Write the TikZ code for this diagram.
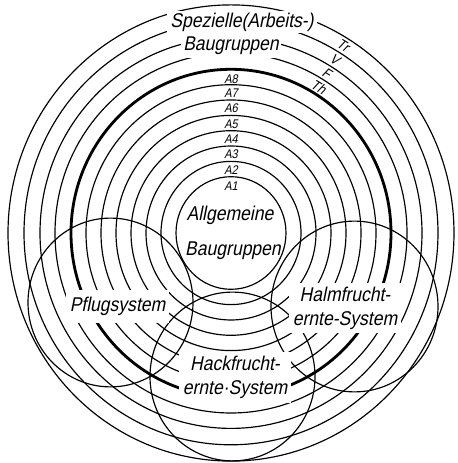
\documentclass[tikz,border=0pt]{standalone}
\usepackage{fontspec}
\newfontfamily\techfont{Liberation Sans}[FakeSlant=0.2,FakeStretch=0.88]
\usetikzlibrary{positioning}
\tikzset{
  ring/.style={line width=1pt},
  mainring/.style={line width=2.4pt},
  sysring/.style={line width=1pt},
  bigtext/.style={font=\techfont\fontsize{17}{20.5}\selectfont, fill=white, inner sep=3.5pt, align=center},
  coretext/.style={font=\techfont\fontsize{17}{20.5}\selectfont, inner sep=1pt},
  alabel/.style={font=\techfont\fontsize{10.7}{12}\selectfont, inner sep=0.5pt},
  zonelabel/.style={font=\techfont\fontsize{12}{13}\selectfont, inner sep=0pt, rotate=-31.5}
}
\begin{document}
\begin{tikzpicture}[x=0.3mm, y=0.3mm]
  \useasboundingbox (0,0) rectangle (457,463);
  \coordinate (c) at (231,230);

  % konzentrische Ringe
  \draw[ring] (c) ellipse [x radius=223, y radius=228.1];
  \draw[ring] (c) ellipse [x radius=207, y radius=211.8];
  \draw[ring] (c) ellipse [x radius=191, y radius=195.4];
  \draw[ring] (c) ellipse [x radius=176, y radius=180.0];
  \draw[mainring] (c) ellipse [x radius=160, y radius=163.7];
  \draw[ring] (c) ellipse [x radius=145, y radius=148.3];
  \draw[ring] (c) ellipse [x radius=130, y radius=133.0];
  \draw[ring] (c) ellipse [x radius=115, y radius=117.6];
  \draw[ring] (c) ellipse [x radius=100, y radius=102.3];
  \draw[ring] (c) ellipse [x radius=85, y radius=87.0];
  \draw[ring] (c) ellipse [x radius=70, y radius=71.6];
  \draw[ring] (c) ellipse [x radius=55, y radius=56.3];

  % Systemkreise
  \coordinate (pflug) at (110.5,160.5);
  \coordinate (halm) at (354.5,156.5);
  \coordinate (hack) at (232.5,86.5);
  \draw[sysring] (pflug) ellipse [x radius=82.5, y radius=84.4];
  \draw[sysring] (halm) ellipse [x radius=83.5, y radius=85.4];
  \draw[sysring] (hack) ellipse [x radius=82.5, y radius=84.4];

  % Beschriftungen mit Aussparung
  \node[bigtext, inner xsep=3pt, inner ysep=1.5pt] (spez) at (242,441) {Spezielle(Arbeits-)};
  \node[bigtext, inner xsep=2pt, inner ysep=3pt] (spezbg) at (231,417) {Baugruppen};
  \node[bigtext, inner ysep=6pt] (pflugtxt) at (117.5,156.5) {Pflugsystem};
  \node[bigtext] (halmtxt) at (345,155) {Halmfrucht-\\ernte-System};
  \node[bigtext] (hacktxt) at (235,85.5) {Hackfrucht-\\ernte·System};

  % Kern
  \node[coretext] (allg) at (230,248) {Allgemeine};
  \node[coretext] (allgbg) at (233,212.5) {Baugruppen};

  % Ringe A1 bis A8
  \node[alabel] (a8) at (231,384) {A8};
  \node[alabel] (a7) at (231,370) {A7};
  \node[alabel] (a6) at (231,355) {A6};
  \node[alabel] (a5) at (231,339) {A5};
  \node[alabel] (a4) at (231,324) {A4};
  \node[alabel] (a3) at (231,309) {A3};
  \node[alabel] (a2) at (231,293) {A2};
  \node[alabel] (a1) at (231,277) {A1};

  % aeussere Ringe
  \node[zonelabel] (tr) at (343.3,417.5) {Tr};
  \node[zonelabel] (v) at (335,403.6) {V};
  \node[zonelabel] (f) at (326.9,390.1) {F};
  \node[zonelabel] (th) at (318.8,376.5) {Th};
\end{tikzpicture}
\end{document}
